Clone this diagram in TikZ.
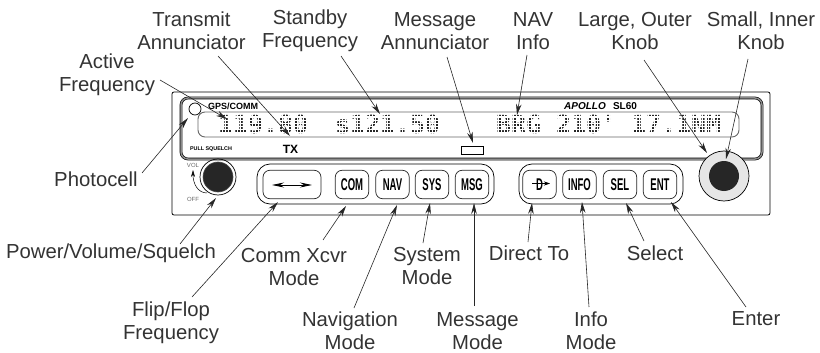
\documentclass[tikz,border=0pt]{standalone}
\usepackage{fontspec}
\setmainfont{Liberation Sans}
\newfontfamily\keyfont[FakeStretch=0.56]{Liberation Sans}
\newfontfamily\lcdfont{DejaVu Sans Mono}
\usetikzlibrary{arrows.meta}
\definecolor{labelgray}{HTML}{333333}
\definecolor{knobblack}{HTML}{262626}
\definecolor{ringgray}{HTML}{E6E6E6}
\tikzset{
  callout/.style={->,line width=0.6pt,draw=black!85},
  calltext/.style={align=center,inner sep=0pt,text=labelgray,font=\fontsize{20.3}{23}\selectfont},
  keybtn/.style={draw=black!85,line width=0.7pt,rounded corners=7pt,minimum width=33.5pt,minimum height=28.5pt,inner sep=0pt,font=\keyfont\bfseries\fontsize{17}{17}\selectfont},
  lcdtext/.style={inner sep=0pt,text=black!85,font=\lcdfont\bfseries\fontsize{24.9}{25}\selectfont},
  tinytext/.style={inner sep=0pt,font=\bfseries\fontsize{5.4}{6}\selectfont}
}
\begin{document}
\begin{tikzpicture}[x=1pt,y=-1pt,>={Stealth[length=11pt,width=5.5pt]}]
\useasboundingbox (0,0) rectangle (820,353);
% panel and display
\draw[line width=0.8pt,rounded corners=2pt] (172,92) rectangle (770,215);
\draw[line width=0.6pt,double=black!45,double distance=1.5pt,rounded corners=7pt] (181,98) rectangle (762,159);
\draw[draw=black!60,line width=0.9pt,rounded corners=7pt] (198,112) rectangle (739,137);
\draw[fill=white,line width=0.7pt] (195,109) circle (6);
\node[lcdtext,anchor=west] (lcdActive) at (218,124) {119.80};
\node[lcdtext,anchor=west] (lcdStandby) at (335,124) {s121.50};
\node[lcdtext,anchor=west] (lcdNav) at (496,124) {BRG 210' 17.1NM};
% dot raster over the display text
\foreach \gx in {216,219,...,727} \draw[white,line width=1pt] (\gx,113) -- (\gx,136);
\foreach \gy in {114,117,...,136} \draw[white,line width=1pt] (214,\gy) -- (728,\gy);
\node[inner sep=0pt,font=\bfseries\fontsize{9}{9}\selectfont] (gpsText) at (233,106) {GPS/COMM};
\node[inner sep=0pt,font=\bfseries\itshape\fontsize{10}{10}\selectfont] (apolloText) at (585,106) {APOLLO};
\node[inner sep=0pt,font=\bfseries\fontsize{10}{10}\selectfont] (slText) at (625,106) {SL60};
\node[tinytext] (pullText) at (211,149) {PULL SQUELCH};
\node[inner sep=0pt,font=\bfseries\fontsize{12}{12}\selectfont] (txText) at (290.5,149) {TX};
\draw[line width=0.6pt] (461,146) rectangle (483,154);
% volume knob
\draw[fill=knobblack,draw=black!70,line width=0.6pt] (218,177) circle (15);
\draw[line width=0.7pt] (218,177) circle (18);
\node[tinytext,font=\fontsize{6}{6}\selectfont,text=black!60] (volText) at (193,165) {VOL};
\node[tinytext,font=\fontsize{6}{6}\selectfont,text=black!60] (offText) at (193,199) {OFF};
\draw[->,>={Stealth[length=7pt,width=4pt]},line width=0.5pt] (207,193) .. controls (198,193) and (193,184) .. (193,170);
% button groups
\draw[line width=0.7pt,rounded corners=13pt] (257,164) rectangle (494,204);
\draw[line width=0.7pt,rounded corners=13pt] (519,164) rectangle (683,204);
\node[keybtn,minimum width=58pt] (btnFlip) at (292,184.5) {};
\node[keybtn] (btnCom) at (352,184.5) {COM};
\node[keybtn] (btnNav) at (392.5,184.5) {NAV};
\node[keybtn] (btnSys) at (432,184.5) {SYS};
\node[keybtn] (btnMsg) at (472,184.5) {MSG};
\node[keybtn] (btnDirect) at (539.5,184.5) {D};
\node[keybtn] (btnInfo) at (579.5,184.5) {INFO};
\node[keybtn] (btnSel) at (620,184.5) {SEL};
\node[keybtn] (btnEnt) at (660,184.5) {ENT};
\draw[<->,>={Stealth[length=12pt,width=5pt]},line width=0.9pt] (272,185) -- (312,185);
\draw[->,>={Stealth[length=6pt,width=4pt]},line width=0.7pt] (532,183.5) -- (550,183.5);
% tuning knob
\draw[fill=ringgray,line width=0.7pt] (724,176) circle (25);
\draw[fill=knobblack,draw=none] (724,176) circle (15);
% labels
\node[calltext] (lblActive) at (107,75) {Active\\Frequency};
\node[calltext] (lblTransmit) at (191.5,31) {Transmit\\Annunciator};
\node[calltext] (lblStandby) at (310,31) {Standby\\Frequency};
\node[calltext] (lblAnnunciator) at (435,31) {Message\\Annunciator};
\node[calltext] (lblNav) at (533,31) {NAV\\Info};
\node[calltext] (lblLarge) at (635,31) {Large, Outer\\Knob};
\node[calltext] (lblSmall) at (761,31) {Small, Inner\\Knob};
\node[calltext] (lblPhotocell) at (96,179) {Photocell};
\node[calltext] (lblPower) at (111,253) {Power/Volume/Squelch};
\node[calltext] (lblComm) at (294,267) {Comm Xcvr\\Mode};
\node[calltext] (lblFlip) at (171,323) {Flip/Flop\\Frequency};
\node[calltext] (lblNavMode) at (350,331) {Navigation\\Mode};
\node[calltext] (lblSystem) at (427,266) {System\\Mode};
\node[calltext] (lblMsgMode) at (477.5,331) {Message\\Mode};
\node[calltext] (lblDirect) at (529,253) {Direct To};
\node[calltext] (lblInfo) at (591,331) {Info\\Mode};
\node[calltext] (lblSelect) at (655,253) {Select};
\node[calltext] (lblEnter) at (756,319) {Enter};
% arrow ends
\coordinate (tailActive) at (160,80);     \coordinate (tipActive) at (227,119);
\coordinate (tailTransmit) at (218,56);   \coordinate (tipTransmit) at (290,136);
\coordinate (tailStandby) at (341,56);    \coordinate (tipStandby) at (380,114);
\coordinate (tailAnnunc) at (447,57);     \coordinate (tipAnnunc) at (473,143);
\coordinate (tailNav) at (527,55);        \coordinate (tipNav) at (517,115);
\coordinate (tailLarge) at (644,60);      \coordinate (tipLarge) at (707,153);
\coordinate (tailSmall) at (748,59);      \coordinate (tipSmall) at (726,159);
\coordinate (tailPhoto) at (142,173);     \coordinate (tipPhoto) at (188,118);
\coordinate (tailPower) at (180,244);     \coordinate (tipPower) at (216,198);
\coordinate (tailFlip) at (192,297);      \coordinate (tipFlip) at (278,202);
\coordinate (tailComm) at (323,240);      \coordinate (tipComm) at (346,206);
\coordinate (tailNavMode) at (354,308);   \coordinate (tipNavMode) at (397,205);
\coordinate (tailSystem) at (423,243);    \coordinate (tipSystem) at (430,203);
\coordinate (tailMsgMode) at (474,306);   \coordinate (tipMsgMode) at (474,203);
\coordinate (tailDirect) at (528,242);    \coordinate (tipDirect) at (532,203);
\coordinate (tailInfo) at (589,307);      \coordinate (tipInfo) at (582,202);
\coordinate (tailSelect) at (644,241);    \coordinate (tipSelect) at (626,203);
\coordinate (tailEnter) at (746,307);     \coordinate (tipEnter) at (671,202);
% callouts
\draw[callout] (tailActive) -- (tipActive);
\draw[callout] (tailTransmit) -- (tipTransmit);
\draw[callout] (tailStandby) -- (tipStandby);
\draw[callout] (tailAnnunc) -- (tipAnnunc);
\draw[callout] (tailNav) -- (tipNav);
\draw[callout] (tailLarge) -- (tipLarge);
\draw[callout] (tailSmall) -- (tipSmall);
\draw[callout] (tailPhoto) -- (tipPhoto);
\draw[callout] (tailPower) -- (tipPower);
\draw[callout] (tailFlip) -- (tipFlip);
\draw[callout] (tailComm) -- (tipComm);
\draw[callout] (tailNavMode) -- (tipNavMode);
\draw[callout] (tailSystem) -- (tipSystem);
\draw[callout] (tailMsgMode) -- (tipMsgMode);
\draw[callout] (tailDirect) -- (tipDirect);
\draw[callout] (tailInfo) -- (tipInfo);
\draw[callout] (tailSelect) -- (tipSelect);
\draw[callout] (tailEnter) -- (tipEnter);
\end{tikzpicture}
\end{document}
